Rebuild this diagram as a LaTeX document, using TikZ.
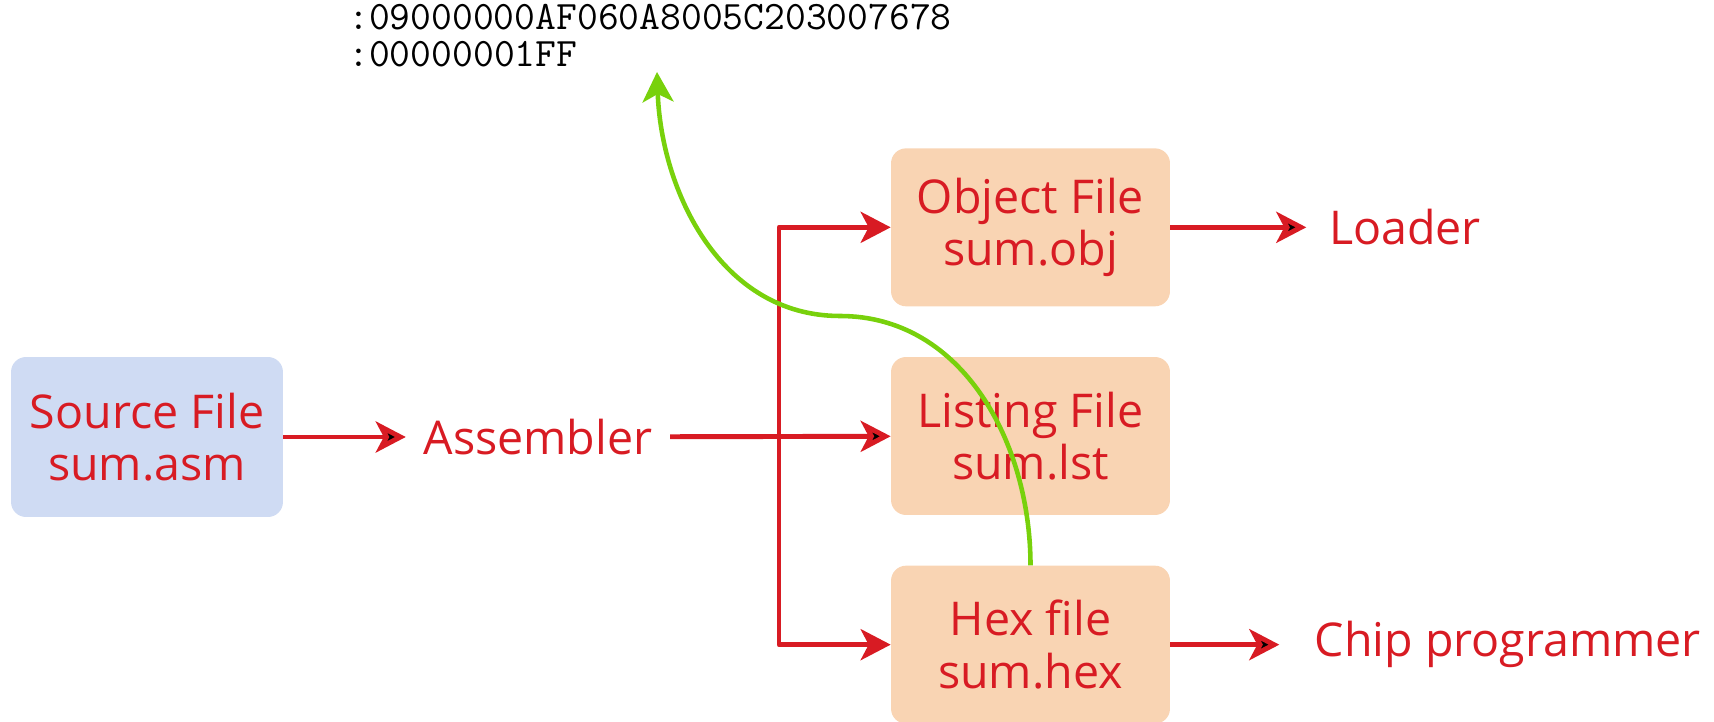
\documentclass[tikz,border=0pt]{standalone}
\usepackage{fontspec}
\setmainfont{Open Sans}
\usepackage{xcolor}
\usetikzlibrary{arrows.meta,positioning}
\definecolor{colorFlow}{HTML}{D81B23}
\definecolor{colorSrc}{HTML}{CFDBF3}
\definecolor{colorOut}{HTML}{F9D4B3}
\definecolor{colorHex}{HTML}{78D10C}

\begin{document}
\begin{tikzpicture}[x=0.02cm,y=-0.02cm,node distance=1cm,>={Stealth[length=0.6cm,width=0.62cm,inset=0.16cm]},every node/.append style={align=center,text=colorFlow,font=\fontsize{26.5}{30}\selectfont},filebox/.style={rounded corners=0.3cm,minimum width=5.58cm,minimum height=3.16cm,inner sep=0pt},tool/.style={inner sep=0.35cm},record/.style={anchor=base west,inner sep=0pt,text=black,font=\ttfamily\fontsize{23}{23}\selectfont},flow/.style={draw=colorFlow,line width=2.8pt,line join=round},]
    \useasboundingbox (0,0) rectangle (1714,722);
    \node [filebox, fill=colorSrc, minimum width=5.44cm, minimum height=3.2cm] (src) at (147,437) {Source File\\sum.asm};
    \node [tool] (asm) at (538,437) {Assembler};
    \node [filebox, fill=colorOut] (lst) at (1030.5,436) {Listing File\\sum.lst};
    \node [filebox, fill=colorOut, above=of lst] (obj) {Object File\\sum.obj};
    \node [filebox, fill=colorOut, below=of lst] (hex) {Hex file\\sum.hex};
    \node [tool, inner xsep=0.45cm, right=2.72cm of obj] (ldr) {Loader};
    \node [tool, inner xsep=0.7cm, right=2.18cm of hex] (chp) {Chip programmer};
    \node [record] (rec1) at (348,30) {:09000000AF060A8005C203007678};
    \node [record] (rec2) at (348,67) {:00000001FF};
    \coordinate (split) at (779,437);
    \coordinate (bend) at (840,316);
    \coordinate (tip) at (657,72);
    \path[flow,->] (src) edge (asm);
    \path[flow,->] (asm) edge (lst);
    \draw[flow,<->] (obj.west) -| (split) |- (hex.west);
    \path[flow,->] (obj) edge (ldr);
    \path[flow,->] (hex) edge (chp);
    \draw[draw=colorHex, line width=2.6pt, ->] (hex.north) to[out=90,in=0] (bend) to[out=180,in=-88] (tip);
\end{tikzpicture}
\end{document}
